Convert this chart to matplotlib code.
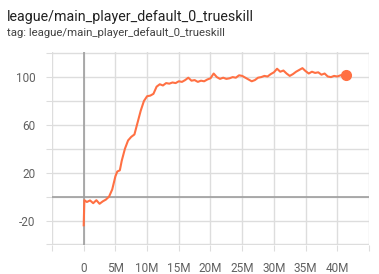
import matplotlib
matplotlib.use('Agg')
import matplotlib.pyplot as plt

plt.rcParams['font.family'] = ['Roboto', 'DejaVu Sans']

# training steps (millions) and trueskill values
steps = [0.0, 0.1, 0.5, 1.0, 1.5, 2.0, 2.5, 3.0, 3.5, 4.0, 4.5, 5.0, 5.3, 5.7,
         6.0, 6.5, 7.0, 7.5, 8.0, 8.5, 9.0, 9.5, 10.0, 10.5, 11.0, 11.5, 12.0,
         12.5, 13.0, 13.5, 14.0, 14.5, 15.0, 15.5, 16.0, 16.5, 17.0, 17.5, 18.0,
         18.5, 19.0, 19.5, 20.0, 20.5, 21.0, 21.5, 22.0, 22.5, 23.0, 23.5, 24.0,
         24.5, 25.0, 25.5, 26.0, 26.5, 27.0, 27.5, 28.0, 28.5, 29.0, 29.5, 30.0,
         30.5, 31.0, 31.5, 32.0, 32.5, 33.0, 33.5, 34.0, 34.5, 35.0, 35.5, 36.0,
         36.5, 37.0, 37.5, 38.0, 38.5, 39.0, 39.5, 40.0, 40.5, 41.3]
trueskill = [-24, -3, -4.5, -3.2, -5.5, -3.0, -6.0, -4.0, -2.5, 0, 6, 17, 21, 22,
             30, 40, 47, 50, 52, 62, 72, 80, 84, 84.5, 86, 92, 94,
             93, 95, 94.5, 95.5, 95, 96.5, 96, 97.5, 99.5, 97, 97.5, 96,
             97, 96.5, 98, 99, 103, 100, 98.5, 99.5, 98.5, 99, 100, 99.5,
             101.5, 101, 99.5, 98, 96.5, 97.5, 99.5, 100, 101, 100.5, 102.5, 104,
             107, 104.5, 105.5, 103, 101, 102.5, 104.5, 106, 107.5, 105, 103, 104.5,
             103.5, 104, 102, 103, 100.5, 100, 101, 100.5, 101.5, 102]

xticks = [-5, 0, 5, 10, 15, 20, 25, 30, 35, 40, 45]
xlabels = ['', '0', '5M', '10M', '15M', '20M', '25M', '30M', '35M', '40M', '']
yticks = [-40, -20, 0, 20, 40, 60, 80, 100, 120]
ylabels = ['', '-20', '', '20', '', '60', '', '100', '']

color = '#ff7043'

fig = plt.figure(figsize=(3.79, 2.74), dpi=100)
ax = fig.add_axes([0.1372, 0.1058, 0.8364, 0.7044])

ax.plot(steps, trueskill, color=color, linewidth=1.5, zorder=3)
ax.plot(steps[-1], trueskill[-1], 'o', color=color, markersize=7, zorder=4)

ax.axhline(0, color='#9e9e9e', linewidth=1.2, zorder=2)
ax.axvline(0, color='#9e9e9e', linewidth=1.2, zorder=2)

ax.set_xlim(-5, 45)
ax.set_ylim(-40.5, 121)
ax.set_xticks(xticks)
ax.set_xticklabels(xlabels)
ax.set_yticks(yticks)
ax.set_yticklabels(ylabels)
ax.grid(True, color='#dddddd', linewidth=1)
for s in ax.spines.values():
    s.set_visible(False)
ax.tick_params(length=4, color='#dddddd', labelcolor='#616161', labelsize=8.5)
ax.tick_params(axis='y', pad=8)
ax.tick_params(axis='x', pad=8)

fig.text(0.018, 0.925, 'league/main_player_default_0_trueskill', fontsize=10.3,
         color='#212121')
fig.text(0.018, 0.868, 'tag: league/main_player_default_0_trueskill', fontsize=8.2,
         color='#424242')

fig.savefig('out.png', dpi=100)
